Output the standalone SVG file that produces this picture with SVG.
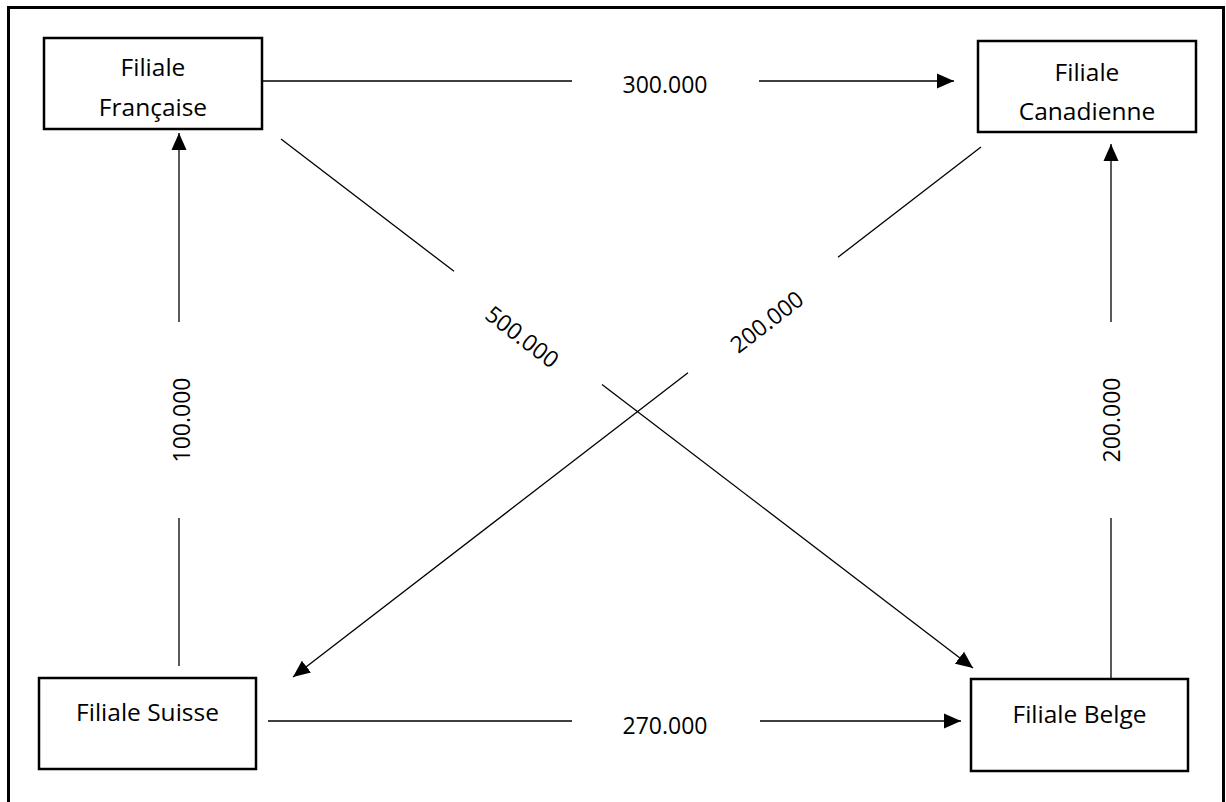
<svg xmlns="http://www.w3.org/2000/svg" width="1226" height="802" viewBox="0 0 1226 802">
  <defs>
    <marker id="arr" markerUnits="userSpaceOnUse" markerWidth="18" markerHeight="16" refX="17" refY="8" orient="auto">
      <path d="M0,0.5 L17,8 L0,15.5 z" fill="#000"/>
    </marker>
    <style>
      .box { fill: #fff; stroke: #000; stroke-width: 2.5; }
      .t { font-family: "Open Sans", "Liberation Sans", sans-serif; font-size: 23px; fill: #000; text-anchor: middle; }
      .n { font-size: 24.5px; }
      .c { stroke: #000; stroke-width: 1.3; fill: none; }
    </style>
  </defs>
  <rect width="1226" height="802" fill="#fff"/>
  <rect x="8.5" y="7.5" width="1215" height="800" fill="none" stroke="#000" stroke-width="3"/>

  <g id="connectors">
    <!-- Française -> Canadienne -->
    <line class="c" x1="262" y1="81" x2="572" y2="81"/>
    <line class="c" x1="759" y1="81" x2="954" y2="81" marker-end="url(#arr)"/>
    <text class="t" x="665" y="93">300.000</text>
    <!-- Suisse -> Belge -->
    <line class="c" x1="268" y1="721" x2="572" y2="721"/>
    <line class="c" x1="760" y1="721" x2="961" y2="721" marker-end="url(#arr)"/>
    <text class="t" x="665" y="734">270.000</text>
    <!-- Suisse -> Française -->
    <line class="c" x1="179" y1="666" x2="179" y2="518"/>
    <line class="c" x1="179" y1="322" x2="179" y2="133" marker-end="url(#arr)"/>
    <text class="t" transform="translate(190,420) rotate(-90)" x="0" y="0">100.000</text>
    <!-- Belge -> Canadienne -->
    <line class="c" x1="1111" y1="678" x2="1111" y2="518"/>
    <line class="c" x1="1111" y1="322" x2="1111" y2="144" marker-end="url(#arr)"/>
    <text class="t" transform="translate(1120,420) rotate(-90)" x="0" y="0">200.000</text>
    <!-- Française -> Belge -->
    <line class="c" x1="281" y1="139" x2="454" y2="271.3"/>
    <line class="c" x1="602" y1="384.4" x2="973" y2="668" marker-end="url(#arr)"/>
    <text class="t" transform="translate(522,337) rotate(37.4)" x="0" y="8">500.000</text>
    <!-- Canadienne -> Suisse -->
    <line class="c" x1="981" y1="147" x2="838" y2="257.2"/>
    <line class="c" x1="688" y1="372.7" x2="293" y2="677" marker-end="url(#arr)"/>
    <text class="t" transform="translate(767,322) rotate(-37.6)" x="0" y="8">200.000</text>
  </g>

  <g id="node-francaise">
    <rect class="box" x="44" y="38" width="218" height="91"/>
    <text class="t n" x="153" y="76">Filiale</text>
    <text class="t n" x="153" y="116">Française</text>
  </g>
  <g id="node-canadienne">
    <rect class="box" x="978" y="41" width="218" height="91"/>
    <text class="t n" x="1087" y="81">Filiale</text>
    <text class="t n" x="1087" y="120">Canadienne</text>
  </g>
  <g id="node-suisse">
    <rect class="box" x="39" y="678" width="217" height="91"/>
    <text class="t n" x="147.5" y="721">Filiale Suisse</text>
  </g>
  <g id="node-belge">
    <rect class="box" x="971" y="679" width="217" height="92"/>
    <text class="t n" x="1079.5" y="723">Filiale Belge</text>
  </g>
</svg>
